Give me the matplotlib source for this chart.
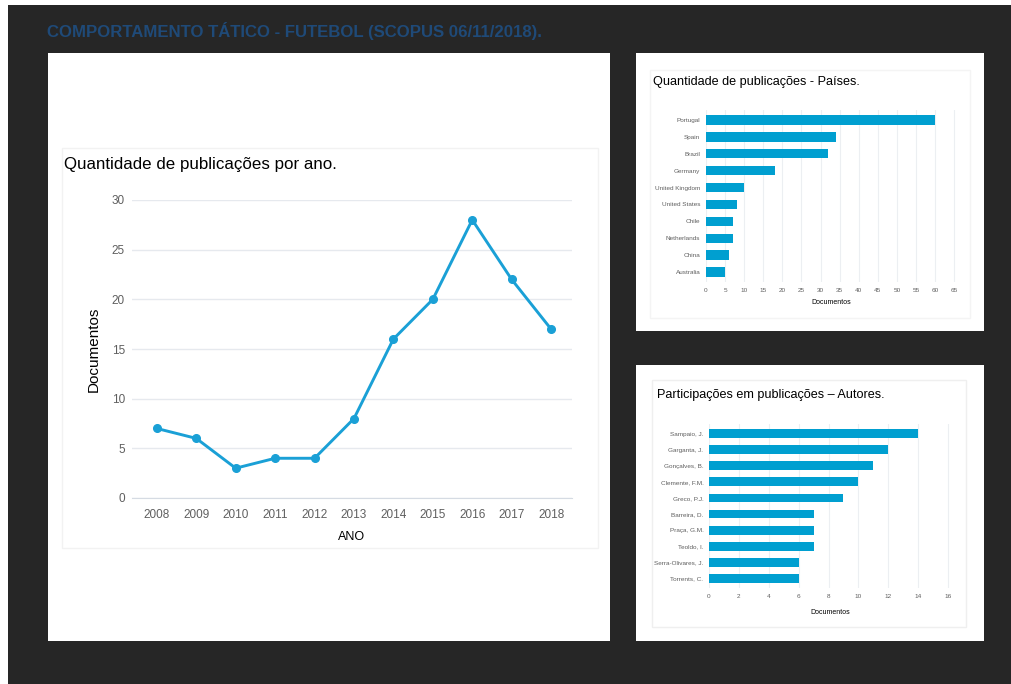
import matplotlib
matplotlib.use("Agg")
import matplotlib.pyplot as plt
from matplotlib.patches import Rectangle
from matplotlib import font_manager

W, H = 1011, 684

# data
anos = [2008, 2009, 2010, 2011, 2012, 2013, 2014, 2015, 2016, 2017, 2018]
docs_ano = [7, 6, 3, 4, 4, 8, 16, 20, 28, 22, 17]

paises = ["Portugal", "Spain", "Brazil", "Germany", "United Kingdom",
          "United States", "Chile", "Netherlands", "China", "Australia"]
docs_pais = [60, 34, 32, 18, 10, 8, 7, 7, 6, 5]

autores = ["Sampaio, J.", "Garganta, J.", "Gonçalves, B.", "Clemente, F.M.",
           "Greco, P.J.", "Barreira, D.", "Praça, G.M.", "Teoldo, I.",
           "Serra-Olivares, J.", "Torrents, C."]
docs_autor = [14, 12, 11, 10, 9, 7, 7, 7, 6, 6]

names = {f.name for f in font_manager.fontManager.ttflist}
narrow = [n for n in ["Liberation Sans Narrow", "DejaVu Sans Condensed"] if n in names]
SANS = ["Liberation Sans", "DejaVu Sans"]
NARROW = narrow + SANS

LINE = "#1aa0d6"
BAR = "#009fd0"
TICK = "#5f5f5f"
GRID = "#e6e9ee"


def rect(l, t, r, b):
    return [l / W, 1 - b / H, (r - l) / W, (b - t) / H]


def box(fig, l, t, r, b, fc="white", ec="none", lw=0):
    fig.patches.append(Rectangle((l / W, 1 - b / H), (r - l) / W, (b - t) / H,
                                 transform=fig.transFigure, fc=fc, ec=ec, lw=lw,
                                 zorder=-1))


def ftext(fig, x, y, s, **kw):
    fig.text(x / W, 1 - y / H, s, **kw)


fig = plt.figure(figsize=(W / 100, H / 100), dpi=100)
fig.patch.set_facecolor("white")
box(fig, 8, 5, W, H, fc="#262626")

ftext(fig, 47, 31, "COMPORTAMENTO TÁTICO - FUTEBOL (SCOPUS 06/11/2018).",
      family=NARROW, fontsize=12.1, fontweight="bold", color="#1f4a78", va="center")

# panels
box(fig, 48, 53, 610, 641)
box(fig, 636, 53, 984, 331)
box(fig, 636, 365, 984, 641)
# faint inner frames
box(fig, 62, 148, 598, 548, fc="none", ec="#f2f2f2", lw=1)
box(fig, 650, 70, 970, 318, fc="none", ec="#f4f4f4", lw=1)
box(fig, 652, 380, 966, 627, fc="none", ec="#efefef", lw=1)

# line chart
ax = fig.add_axes(rect(132, 200, 572, 498))
ax.plot(anos, docs_ano, color=LINE, lw=2.1, marker="o", ms=5.5, zorder=3)
ax.set_xlim(2007.37, 2018.53)
ax.set_ylim(0, 30)
ax.set_xticks(anos)
ax.set_yticks(range(0, 31, 5))
ax.grid(axis="y", color=GRID, lw=1)
ax.set_axisbelow(True)
for s in ax.spines.values():
    s.set_visible(False)
ax.spines["bottom"].set_visible(True)
ax.spines["bottom"].set_color("#d5dbe3")
ax.tick_params(length=0, labelsize=8.5, colors=TICK, pad=8)
for lab in ax.get_xticklabels() + ax.get_yticklabels():
    lab.set_family(NARROW)
ax.tick_params(axis="y", pad=5)
ax.set_xlabel("ANO", family=SANS, fontsize=9, labelpad=7)
ax.set_ylabel("Documentos", family=SANS, fontsize=11, labelpad=8)
ftext(fig, 64, 165, "Quantidade de publicações por ano.", family=SANS,
      fontsize=12.2, va="center")


def barras(rc, labels, values, xmax, step, title, tpos, xl_y):
    a = fig.add_axes(rect(*rc))
    pos = list(range(len(labels)))
    a.barh(pos, values, height=0.55, color=BAR, zorder=3)
    a.set_yticks(pos)
    a.set_yticklabels(labels)
    a.set_ylim(len(labels) - 0.4, -0.6)
    a.set_xlim(0, xmax)
    a.set_xticks(range(0, int(xmax) + 1, step))
    a.grid(axis="x", color="#eceff2", lw=0.8)
    a.set_axisbelow(True)
    for s in a.spines.values():
        s.set_visible(False)
    a.tick_params(length=0, labelsize=4.6, colors=TICK, pad=4)
    for lab in a.get_xticklabels() + a.get_yticklabels():
        lab.set_family(NARROW)
    ftext(fig, tpos[0], tpos[1], title, family=SANS, fontsize=9.1, va="center")
    ftext(fig, (rc[0] + rc[2]) / 2, xl_y, "Documentos", family=NARROW,
          fontsize=5, ha="center", va="center")
    return a


barras((706, 110, 956, 282), paises, docs_pais, 65.5, 5,
       "Quantidade de publicações - Países.", (653, 82), 302)
barras((709, 424, 951, 588), autores, docs_autor, 16.2, 2,
       "Participações em publicações – Autores.", (657, 395), 612)

fig.savefig("out.png", dpi=100, facecolor=fig.get_facecolor())
